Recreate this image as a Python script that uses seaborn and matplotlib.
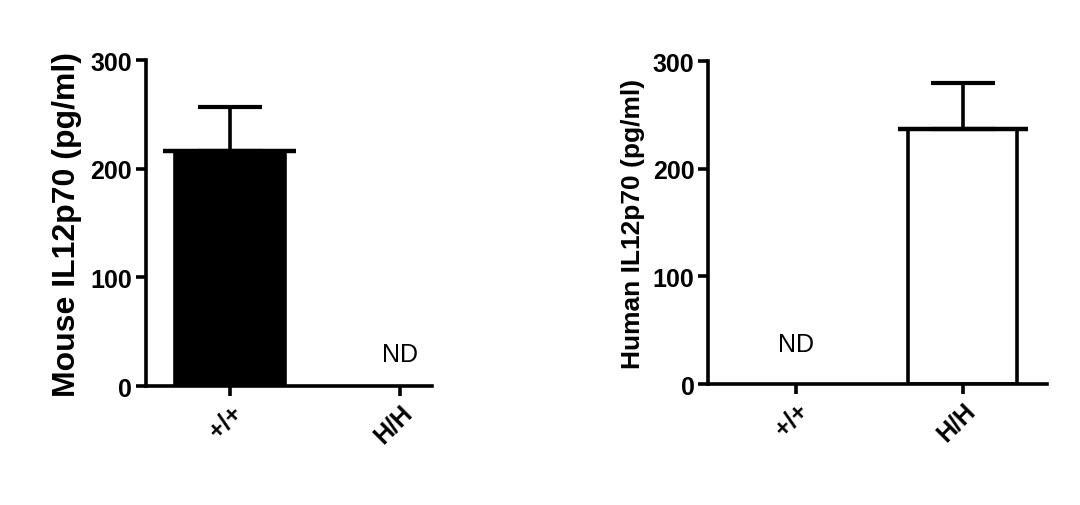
import pandas as pd
import seaborn as sns
import matplotlib.pyplot as plt

groups = ['+/+', 'H/H']
mouse_mean = [216, 0]
mouse_sd = [41, 0]
human_mean = [0, 237]
human_sd = [0, 43]
nd_mouse = [False, True]
nd_human = [True, False]
yticks = [0, 100, 200, 300]

sns.set_style('white')
plt.rcParams['font.family'] = ['Liberation Sans', 'DejaVu Sans']
plt.rcParams['font.weight'] = 'bold'
plt.rcParams['text.color'] = 'black'
plt.rcParams['xtick.color'] = 'black'
plt.rcParams['ytick.color'] = 'black'
plt.rcParams['axes.labelcolor'] = 'black'

fig = plt.figure(figsize=(10.8, 5.06), dpi=100)
ax1 = fig.add_axes([0.135, 0.235, 0.265, 0.644])
ax2 = fig.add_axes([0.656, 0.239, 0.313, 0.638])

LW = 2.6


def panel(ax, means, sds, nd, fill, ylabel, ylsize, xlim, nd_y):
    df = pd.DataFrame({'group': groups, 'value': means})
    sns.barplot(data=df, x='group', y='value', ax=ax, color=fill,
                edgecolor='black', linewidth=LW, width=0.65, errorbar=None,
                saturation=1)
    for p, m in zip(ax.patches, means):
        if m == 0:
            p.set_visible(False)
    for i, (m, s, n) in enumerate(zip(means, sds, nd)):
        if n:
            ax.text(i, nd_y, 'ND', ha='center', va='center', fontsize=18,
                    fontweight='normal')
            continue
        ax.hlines(m, i - 0.39, i + 0.39, color='black', lw=LW + 0.6, zorder=4)
        ax.errorbar(i, m, yerr=[[0], [s]], fmt='none', ecolor='black',
                    elinewidth=LW, capsize=23, capthick=LW + 0.4, zorder=4)
    ax.set_ylim(0, 300)
    ax.set_xlim(*xlim)
    ax.set_yticks(yticks)
    ax.set_yticklabels([str(t) for t in yticks], fontsize=18, fontweight='bold')
    ax.set_xticks(range(len(groups)))
    ax.set_xticklabels(groups, rotation=45, ha='right', rotation_mode='anchor',
                       fontweight='bold', fontsize=18)
    ax.set_xlabel('')
    ax.set_ylabel(ylabel, fontsize=ylsize, fontweight='bold', labelpad=6)
    for side in ['top', 'right']:
        ax.spines[side].set_visible(False)
    for side in ['left', 'bottom']:
        ax.spines[side].set_linewidth(LW)
        ax.spines[side].set_color('black')
    ax.tick_params(axis='both', direction='out', length=7, width=LW,
                   color='black', pad=3, bottom=True, left=True)


panel(ax1, mouse_mean, mouse_sd, nd_mouse, 'black',
      'Mouse IL12p70 (pg/ml)', 23, (-0.494, 1.19), 30)
panel(ax2, human_mean, human_sd, nd_human, 'white',
      'Human IL12p70 (pg/ml)', 19, (-0.52, 1.5), 37)

fig.savefig('out.png', dpi=100, facecolor='white')
